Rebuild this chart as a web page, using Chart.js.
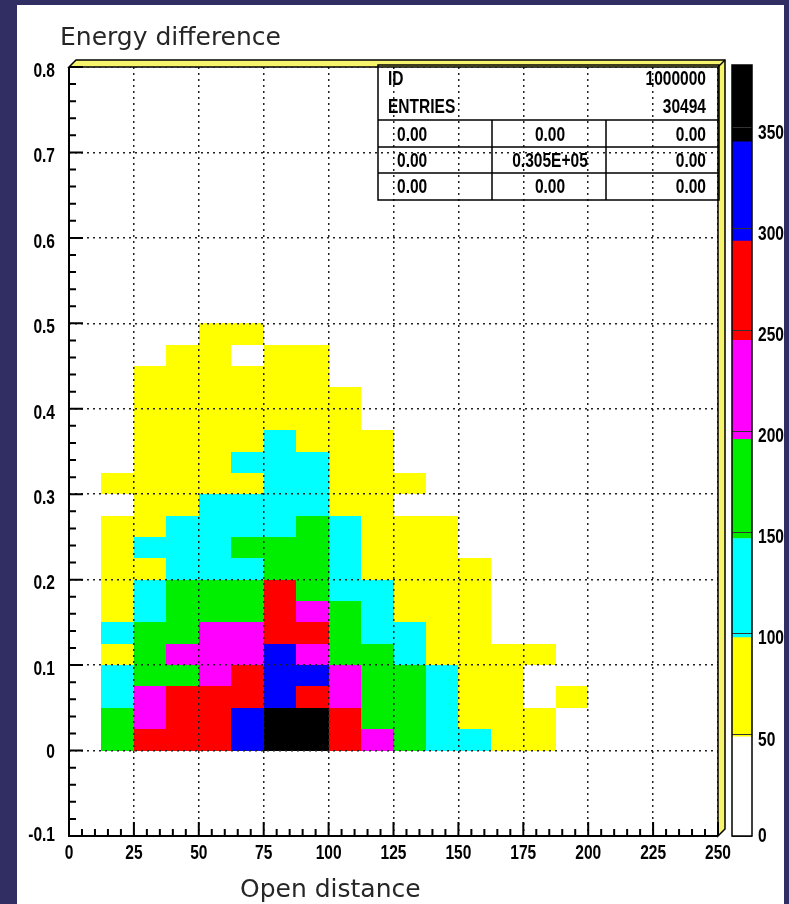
<!DOCTYPE html>
<html>
<head>
<meta charset="utf-8">
<title>Energy difference vs Open distance</title>
<script src="https://cdn.jsdelivr.net/npm/chart.js@4.4.1/dist/chart.umd.min.js"></script>
<style>
  html, body { margin: 0; padding: 0; }
  body { width: 789px; height: 904px; background: #302e62; position: relative; overflow: hidden; }
  #panel { position: absolute; left: 17px; top: 5px; width: 767px; height: 899px; background: #fff; }
  #heat { position: absolute; left: 0; top: 0; }
  #bar { position: absolute; left: 700px; top: 50px; }
</style>
</head>
<body>
<div id="panel"></div>
<canvas id="heat" width="789" height="904"></canvas>
<canvas id="bar" width="89" height="800"></canvas>
<script>
// histogram binning
const xEdges = [0, 12.5, 25, 37.5, 50, 62.5, 75, 87.5, 100, 112.5, 125, 137.5, 150, 162.5, 175, 187.5, 200];
const yEdges = [0, 0.025, 0.05, 0.075, 0.1, 0.125, 0.15, 0.175, 0.2, 0.225, 0.25,
                0.275, 0.3, 0.325, 0.35, 0.375, 0.4, 0.425, 0.45, 0.475, 0.5];

// entries per cell, one array per y bin (lowest first), one value per x bin
const row00 = [0, 165, 262, 271, 258, 312, 368, 352, 266, 214, 172, 128, 103, 84, 62, 0];
const row01 = [0, 158, 221, 279, 268, 301, 377, 349, 254, 176, 163, 119, 88, 76, 55, 30];
const row02 = [0, 131, 226, 284, 275, 263, 318, 257, 209, 181, 160, 112, 79, 71, 36, 58];
const row03 = [0, 124, 168, 175, 218, 269, 306, 300, 205, 170, 152, 106, 74, 63, 28, 22];
const row04 = [0, 86, 162, 203, 227, 231, 299, 212, 183, 166, 125, 92, 80, 57, 52, 18];
const row05 = [0, 109, 154, 178, 201, 224, 252, 259, 171, 137, 118, 89, 70, 41, 25, 12];
const row06 = [0, 78, 133, 180, 187, 174, 251, 207, 157, 130, 91, 85, 66, 37, 20, 8];
const row07 = [0, 72, 127, 167, 172, 186, 252, 179, 136, 116, 83, 77, 61, 30, 15, 5];
const row08 = [0, 69, 93, 131, 134, 121, 169, 159, 126, 87, 80, 68, 53, 22, 10, 4];
const row09 = [0, 65, 104, 129, 138, 151, 164, 156, 114, 82, 75, 64, 44, 18, 6, 2];
const row10 = [0, 59, 90, 115, 122, 136, 127, 150, 108, 79, 66, 56, 35, 12, 4, 0];
const row11 = [0, 42, 85, 90, 107, 113, 120, 106, 88, 73, 45, 40, 24, 8, 2, 0];
const row12 = [0, 51, 81, 87, 92, 89, 110, 102, 83, 69, 50, 33, 15, 5, 0, 0];
const row13 = [0, 30, 76, 84, 89, 104, 117, 101, 78, 64, 38, 22, 9, 2, 0, 0];
const row14 = [0, 20, 71, 79, 86, 93, 105, 90, 74, 57, 29, 14, 5, 0, 0, 0];
const row15 = [0, 14, 67, 74, 80, 88, 88, 85, 66, 43, 19, 8, 2, 0, 0, 0];
const row16 = [0, 9, 60, 68, 77, 82, 89, 78, 54, 32, 11, 4, 0, 0, 0, 0];
const row17 = [0, 5, 52, 63, 70, 75, 81, 69, 44, 21, 6, 2, 0, 0, 0, 0];
const row18 = [0, 2, 41, 55, 62, 46, 66, 58, 30, 12, 3, 0, 0, 0, 0, 0];
const row19 = [0, 0, 28, 39, 51, 53, 45, 40, 18, 6, 0, 0, 0, 0, 0, 0];
const counts = [row00, row01, row02, row03, row04, row05, row06, row07, row08, row09,
                row10, row11, row12, row13, row14, row15, row16, row17, row18, row19];

const xTicks = [0, 25, 50, 75, 100, 125, 150, 175, 200, 225, 250];
const yTicks = [-0.1, 0, 0.1, 0.2, 0.3, 0.4, 0.5, 0.6, 0.7, 0.8];
const zTicks = [0, 50, 100, 150, 200, 250, 300, 350];
// lower edge of each colour level, and top of the colour scale
const zLevels = [0, 49, 98, 147, 196, 245, 294, 343];
const zMax = 381;
const levelColors = ['#ffffff', '#ffff00', '#00ffff', '#00ee00', '#ff00ff', '#ff0000', '#0000ff', '#000000'];

const statsHead = [['ID', '1000000'], ['ENTRIES', '30494']];
const statsGrid = [['0.00', '0.00', '0.00'], ['0.00', '0.305E+05', '0.00'], ['0.00', '0.00', '0.00']];

const labelFont = 'bold 21px "Liberation Sans", Arial, sans-serif';

// PAW style narrow bold text
function narrowText(ctx, text, x, y, align, baseline) {
  ctx.save();
  ctx.translate(x, y);
  ctx.scale(0.74, 1);
  ctx.font = labelFont;
  ctx.fillStyle = '#000';
  ctx.textAlign = align;
  ctx.textBaseline = baseline || 'middle';
  ctx.fillText(text, 0, 0);
  ctx.restore();
}

function levelOf(v) {
  let k = 0;
  zLevels.forEach((z, i) => { if (v >= z) k = i; });
  return k;
}

// coloured cells, painted before the grid so the dotted lines show on top
const cellsPlugin = {
  id: 'cells',
  beforeDraw(chart) {
    const { ctx, scales: { x, y } } = chart;
    ctx.save();
    counts.forEach((row, j) => {
      const yTop = Math.round(y.getPixelForValue(yEdges[j + 1]));
      const yBot = Math.round(y.getPixelForValue(yEdges[j]));
      row.forEach((v, i) => {
        const level = levelOf(v);
        if (level === 0) return;
        const x0 = Math.round(x.getPixelForValue(xEdges[i]));
        const x1 = Math.round(x.getPixelForValue(xEdges[i + 1]));
        ctx.fillStyle = levelColors[level];
        ctx.fillRect(x0, yTop, x1 - x0, yBot - yTop);
      });
    });
    ctx.restore();
  }
};

// yellow 3d box edge, axes, inner ticks, labels, stats box and titles
const framePlugin = {
  id: 'frame',
  afterDraw(chart) {
    const { ctx, chartArea: a, scales: { x, y } } = chart;
    const d = 7;
    ctx.save();
    ctx.fillStyle = '#f6f46c';
    ctx.strokeStyle = '#000';
    ctx.lineWidth = 1.5;
    ctx.beginPath();
    ctx.moveTo(a.left, a.top);
    ctx.lineTo(a.left + d, a.top - d);
    ctx.lineTo(a.right + d, a.top - d);
    ctx.lineTo(a.right + d, a.bottom - d);
    ctx.lineTo(a.right, a.bottom);
    ctx.lineTo(a.right, a.top);
    ctx.closePath();
    ctx.fill();
    ctx.stroke();
    ctx.beginPath();
    ctx.moveTo(a.right, a.top);
    ctx.lineTo(a.right + d, a.top - d);
    ctx.stroke();

    ctx.lineWidth = 2;
    ctx.beginPath();
    ctx.moveTo(a.left, a.top);
    ctx.lineTo(a.left, a.bottom);
    ctx.lineTo(a.right, a.bottom);
    ctx.stroke();

    ctx.beginPath();
    for (let k = 0; k <= 50; k++) {
      const px = x.getPixelForValue(k * 5);
      ctx.moveTo(px, a.bottom);
      ctx.lineTo(px, a.bottom - (k % 5 === 0 ? 14 : 7));
    }
    for (let k = 0; k <= 45; k++) {
      const py = y.getPixelForValue(-0.1 + k * 0.02);
      ctx.moveTo(a.left, py);
      ctx.lineTo(a.left + (k % 5 === 0 ? 14 : 7), py);
    }
    ctx.stroke();
    ctx.restore();

    // tick labels
    xTicks.forEach(v => {
      narrowText(ctx, String(v), x.getPixelForValue(v), a.bottom + 7, 'center', 'top');
    });
    yTicks.forEach(v => {
      const t = v === 0 ? '0' : v.toFixed(1);
      const off = v < 0 ? -1 : (v === 0 ? 2 : 4);
      narrowText(ctx, t, a.left - 14, y.getPixelForValue(v) + off, 'right', 'middle');
    });

    // stats box
    const bx0 = 378, bx1 = 719, by0 = 65, by1 = 200;
    const rows = [120, 147, 173];
    const cols = [492, 606];
    ctx.save();
    ctx.strokeStyle = '#000';
    ctx.lineWidth = 1.5;
    ctx.strokeRect(bx0, by0, bx1 - bx0, by1 - by0);
    ctx.beginPath();
    rows.forEach(r => { ctx.moveTo(bx0, r); ctx.lineTo(bx1, r); });
    cols.forEach(c => { ctx.moveTo(c, rows[0]); ctx.lineTo(c, by1); });
    ctx.stroke();
    ctx.restore();
    const headBase = [85, 113];
    statsHead.forEach((h, i) => {
      narrowText(ctx, h[0], 388, headBase[i], 'left', 'alphabetic');
      narrowText(ctx, h[1], 706, headBase[i], 'right', 'alphabetic');
    });
    const gridBase = [141, 167, 193];
    statsGrid.forEach((g, i) => {
      narrowText(ctx, g[0], 397, gridBase[i], 'left', 'alphabetic');
      narrowText(ctx, g[1], 550, gridBase[i], 'center', 'alphabetic');
      narrowText(ctx, g[2], 706, gridBase[i], 'right', 'alphabetic');
    });

    // titles
    ctx.save();
    ctx.fillStyle = '#262626';
    ctx.font = '25px "DejaVu Sans", sans-serif';
    ctx.textAlign = 'left';
    ctx.textBaseline = 'alphabetic';
    ctx.fillText('Energy difference', 60, 45);
    ctx.fillText('Open distance', 240, 897);
    ctx.restore();
  }
};

new Chart(document.getElementById('heat'), {
  type: 'scatter',
  data: { datasets: [{ data: [] }] },
  options: {
    responsive: false,
    animation: false,
    devicePixelRatio: 1,
    layout: { padding: { left: 17, top: 67, right: 71, bottom: 38 } },
    plugins: { legend: { display: false }, tooltip: { enabled: false } },
    scales: {
      x: {
        type: 'linear', min: 0, max: 250,
        afterBuildTicks: s => { s.ticks = xTicks.map(v => ({ value: v })); },
        afterFit: s => { s.height = 30; },
        grid: { color: '#222', lineWidth: 1.5, drawTicks: false },
        border: { display: false, dash: [2, 4] },
        ticks: { display: false }
      },
      y: {
        type: 'linear', min: -0.1, max: 0.8,
        afterBuildTicks: s => { s.ticks = yTicks.map(v => ({ value: v })); },
        afterFit: s => { s.width = 52; },
        grid: { color: '#222', lineWidth: 1.5, drawTicks: false },
        border: { display: false, dash: [2, 4] },
        ticks: { display: false }
      }
    }
  },
  plugins: [cellsPlugin, framePlugin]
});

// colour scale: one stacked bar, one segment per level
const levelSpans = zLevels.map((z, i) => (i + 1 < zLevels.length ? zLevels[i + 1] : zMax) - z);

new Chart(document.getElementById('bar'), {
  type: 'bar',
  data: {
    labels: [''],
    datasets: levelColors.map((c, i) => ({
      data: [levelSpans[i]],
      backgroundColor: c,
      borderWidth: 0,
      barPercentage: 1,
      categoryPercentage: 1
    }))
  },
  options: {
    responsive: false,
    animation: false,
    devicePixelRatio: 1,
    layout: { padding: { left: 32, top: 15, right: 0, bottom: 14 } },
    plugins: { legend: { display: false }, tooltip: { enabled: false } },
    scales: {
      x: { stacked: true, display: false },
      y: {
        stacked: true, position: 'right', min: 0, max: zMax,
        afterBuildTicks: s => { s.ticks = zTicks.map(v => ({ value: v })); },
        afterFit: s => { s.width = 37; },
        grid: { color: '#333', lineWidth: 1, drawTicks: false, z: 1 },
        border: { display: false },
        ticks: { display: false }
      }
    }
  },
  plugins: [{
    id: 'barFrame',
    afterDraw(chart) {
      const { ctx, chartArea: a, scales: { y } } = chart;
      ctx.save();
      ctx.strokeStyle = '#000';
      ctx.lineWidth = 1.5;
      ctx.strokeRect(a.left, a.top, a.right - a.left, a.bottom - a.top);
      ctx.restore();
      zTicks.forEach(v => {
        const off = v === 0 ? 0 : 5;
        narrowText(ctx, String(v), a.right + 6, y.getPixelForValue(v) + off, 'left', 'middle');
      });
    }
  }]
});
</script>
</body>
</html>
